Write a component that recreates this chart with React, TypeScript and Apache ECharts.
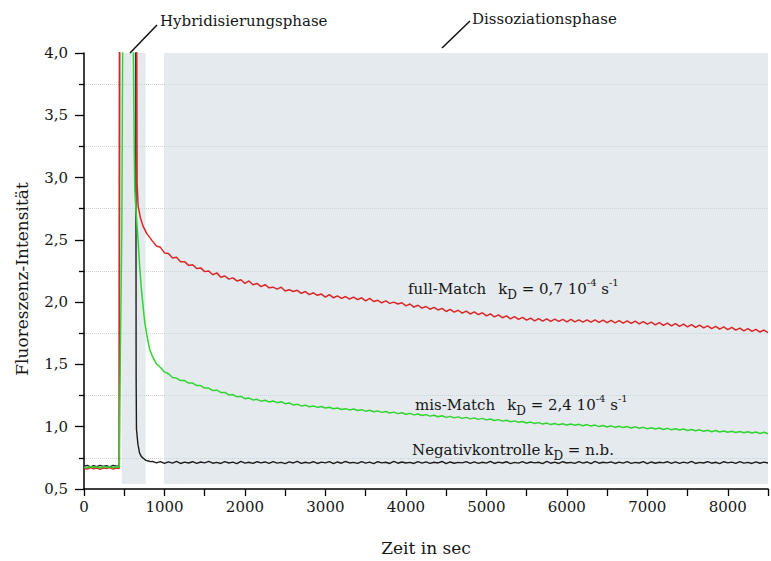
import React, { useEffect, useRef } from 'react';
import * as echarts from 'echarts';

const FONT = '"DejaVu Serif", "Liberation Serif", serif';

// Phase bands (seconds) and their vertical extent
const hybridPhase = [470, 765];
const dissocPhase = [994, 8500];
const bandY = [0.54, 4.0];

// Tail sampling: 850 s onwards, every 50 s
const TAIL_START = 850;
const TAIL_STEP = 50;

// full-Match (red)
const redHead: [number, number][] = [
  [0, 0.665], [40, 0.66], [80, 0.672], [120, 0.662], [160, 0.668], [200, 0.658], [240, 0.67],
  [280, 0.664], [320, 0.672], [360, 0.66], [400, 0.668], [438, 0.665], [442, 5], [652, 5],
  [660, 2.95], [673, 2.77], [700, 2.68], [734, 2.61], [780, 2.55], [817, 2.52],
];
const redTail = [
  2.49, 2.45, 2.44, 2.395, 2.39, 2.355, 2.36, 2.325, 2.325, 2.295,
  2.3, 2.27, 2.275, 2.245, 2.25, 2.22, 2.235, 2.2, 2.21, 2.185,
  2.195, 2.17, 2.18, 2.15, 2.17, 2.14, 2.15, 2.125, 2.14, 2.115,
  2.12, 2.105, 2.12, 2.09, 2.1, 2.085, 2.095, 2.07, 2.085, 2.06,
  2.075, 2.055, 2.065, 2.04, 2.06, 2.035, 2.05, 2.03, 2.045, 2.025,
  2.04, 2.02, 2.035, 2.01, 2.03, 2.005, 2.015, 1.995, 2.01, 1.99,
  2.0, 1.985, 1.995, 1.97, 1.985, 1.96, 1.975, 1.952, 1.965, 1.943,
  1.958, 1.937, 1.95, 1.925, 1.942, 1.92, 1.935, 1.912, 1.928, 1.905,
  1.922, 1.9, 1.915, 1.89, 1.905, 1.882, 1.898, 1.875, 1.89, 1.866,
  1.884, 1.862, 1.878, 1.855, 1.872, 1.85, 1.868, 1.848, 1.866, 1.846,
  1.864, 1.845, 1.862, 1.842, 1.861, 1.841, 1.858, 1.84, 1.857, 1.839,
  1.857, 1.837, 1.855, 1.835, 1.853, 1.834, 1.851, 1.831, 1.849, 1.829,
  1.847, 1.826, 1.844, 1.823, 1.84, 1.818, 1.836, 1.814, 1.832, 1.81,
  1.828, 1.806, 1.823, 1.802, 1.82, 1.797, 1.815, 1.793, 1.81, 1.788,
  1.806, 1.784, 1.801, 1.78, 1.797, 1.775, 1.792, 1.77, 1.787, 1.765,
  1.781, 1.76, 1.776, 1.755,
];

// mis-Match (green)
const greenHead: [number, number][] = [
  [0, 0.675], [40, 0.67], [80, 0.68], [120, 0.672], [160, 0.678], [200, 0.668], [240, 0.682],
  [280, 0.672], [320, 0.68], [360, 0.67], [400, 0.678], [440, 0.675], [446, 1.2], [470, 2.6],
  [486, 5], [600, 5], [625, 3.2], [631, 2.9], [650, 2.7], [672, 2.5], [690, 2.3], [714, 2.1],
  [735, 1.96], [755, 1.84], [785, 1.72], [817, 1.62],
];
const greenTail = [
  1.565, 1.505, 1.475, 1.44, 1.425, 1.395, 1.39, 1.37, 1.37, 1.35,
  1.35, 1.33, 1.33, 1.31, 1.31, 1.29, 1.293, 1.275, 1.275, 1.255,
  1.258, 1.24, 1.243, 1.225, 1.23, 1.215, 1.22, 1.205, 1.212, 1.199,
  1.206, 1.193, 1.2, 1.185, 1.19, 1.175, 1.181, 1.167, 1.173, 1.16,
  1.167, 1.155, 1.162, 1.15, 1.156, 1.144, 1.15, 1.138, 1.145, 1.135,
  1.142, 1.13, 1.137, 1.125, 1.132, 1.12, 1.127, 1.115, 1.122, 1.11,
  1.117, 1.105, 1.112, 1.1, 1.107, 1.095, 1.102, 1.09, 1.097, 1.085,
  1.092, 1.08, 1.088, 1.075, 1.083, 1.071, 1.079, 1.067, 1.075, 1.063,
  1.071, 1.059, 1.067, 1.055, 1.062, 1.05, 1.057, 1.045, 1.052, 1.04,
  1.047, 1.035, 1.042, 1.03, 1.037, 1.025, 1.033, 1.021, 1.029, 1.017,
  1.026, 1.015, 1.024, 1.013, 1.022, 1.011, 1.019, 1.008, 1.017, 1.005,
  1.013, 1.001, 1.01, 0.998, 1.007, 0.995, 1.004, 0.993, 1.001, 0.99,
  0.999, 0.987, 0.995, 0.984, 0.992, 0.981, 0.99, 0.978, 0.987, 0.975,
  0.984, 0.973, 0.981, 0.97, 0.978, 0.967, 0.975, 0.963, 0.972, 0.96,
  0.969, 0.957, 0.966, 0.955, 0.964, 0.953, 0.962, 0.951, 0.96, 0.949,
  0.957, 0.946, 0.955, 0.943,
];

// Negativkontrolle (black)
const blackHead: [number, number][] = [
  [0, 0.683], [40, 0.69], [80, 0.678], [120, 0.688], [160, 0.68], [200, 0.69], [240, 0.682],
  [280, 0.688], [320, 0.678], [360, 0.69], [400, 0.684], [439, 0.686], [443, 5], [642, 5],
  [648, 1.38], [652, 0.98], [670, 0.86], [690, 0.79], [714, 0.76], [740, 0.745], [770, 0.73],
  [800, 0.725], [825, 0.72],
];
const blackTail = [
  0.722, 0.71, 0.72, 0.706, 0.718, 0.708, 0.721, 0.705, 0.716, 0.709,
  0.719, 0.706, 0.717, 0.71, 0.722, 0.707, 0.714, 0.705, 0.72, 0.709,
  0.716, 0.704, 0.721, 0.708, 0.715, 0.706, 0.719, 0.71, 0.717, 0.705,
  0.72, 0.708, 0.714, 0.704, 0.718, 0.709, 0.722, 0.706, 0.715, 0.708,
  0.719, 0.705, 0.716, 0.71, 0.72, 0.704, 0.717, 0.707, 0.721, 0.709,
  0.714, 0.706, 0.72, 0.708, 0.716, 0.704, 0.719, 0.71, 0.715, 0.705,
  0.721, 0.707, 0.717, 0.709, 0.714, 0.705, 0.72, 0.708, 0.718, 0.706,
  0.715, 0.709, 0.721, 0.704, 0.717, 0.707, 0.714, 0.71, 0.72, 0.705,
  0.718, 0.706, 0.715, 0.708, 0.722, 0.705, 0.716, 0.709, 0.719, 0.704,
  0.714, 0.708, 0.72, 0.706, 0.717, 0.71, 0.715, 0.704, 0.721, 0.707,
  0.716, 0.705, 0.719, 0.709, 0.714, 0.706, 0.72, 0.708, 0.717, 0.704,
  0.721, 0.707, 0.715, 0.71, 0.718, 0.705, 0.716, 0.708, 0.72, 0.706,
  0.714, 0.709, 0.72, 0.704, 0.717, 0.707, 0.715, 0.71, 0.719, 0.705,
  0.718, 0.706, 0.716, 0.708, 0.721, 0.705, 0.714, 0.709, 0.72, 0.707,
  0.715, 0.704, 0.719, 0.71, 0.716, 0.706, 0.72, 0.708, 0.714, 0.705,
  0.718, 0.707, 0.716, 0.709,
];

const build = (head: [number, number][], tail: number[]) =>
  head.concat(tail.map((v, i) => [TAIL_START + TAIL_STEP * i, v] as [number, number]));

const INK = '#161616';
const txt = { fontFamily: FONT, fontSize: 15, fill: INK, color: INK, lineHeight: 24 };
const rich = {
  t: txt,
  k: { ...txt, padding: [0, 0, 0, 12] },
  k1: { ...txt, padding: [0, 0, 0, 4] },
  s: { fontFamily: FONT, fontSize: 12, fill: INK, color: INK, lineHeight: 14, verticalAlign: 'bottom' },
  p: { fontFamily: FONT, fontSize: 10, fill: INK, color: INK, lineHeight: 12, verticalAlign: 'top' },
};

export default function App() {
  const ref = useRef<HTMLDivElement>(null);
  useEffect(() => {
    const chart = echarts.init(ref.current!, null, { renderer: 'svg' });
    const option: any = {
      animation: false,
      backgroundColor: '#ffffff',
      grid: { left: 84, right: 0, top: 53, bottom: 71 },
      xAxis: {
        type: 'value',
        min: 0,
        max: 8500,
        interval: 500,
        axisLine: { show: true, lineStyle: { color: '#000', width: 1.5 } },
        axisTick: { show: true, length: 7, lineStyle: { color: '#000', width: 1.3 } },
        axisLabel: {
          formatter: (v: number) => (v % 1000 === 0 ? String(v) : ''),
          color: INK,
          fontFamily: FONT,
          fontSize: 15,
          margin: 10,
        },
        splitLine: { show: false },
        name: 'Zeit in sec',
        nameLocation: 'middle',
        nameGap: 50,
        nameTextStyle: { fontFamily: FONT, fontSize: 17, color: INK },
      },
      yAxis: {
        type: 'value',
        min: 0.5,
        max: 4.0,
        interval: 0.5,
        axisLine: { show: true, lineStyle: { color: '#000', width: 1.5 } },
        axisTick: { show: true, length: 9, lineStyle: { color: '#000', width: 1.3 } },
        minorTick: { show: true, splitNumber: 2, length: 5, lineStyle: { color: '#000', width: 1.3 } },
        minorSplitLine: { show: true, lineStyle: { color: '#c8d6cc', type: 'dotted', width: 1 } },
        splitLine: { show: false },
        axisLabel: {
          formatter: (v: number) => v.toFixed(1).replace('.', ','),
          color: INK,
          fontFamily: FONT,
          fontSize: 15,
          margin: 16,
        },
      },
      series: [
        {
          name: 'Negativkontrolle',
          type: 'line',
          data: build(blackHead, blackTail),
          showSymbol: false,
          lineStyle: { color: '#1c1c1c', width: 1.4 },
          z: 3,
          markArea: {
            silent: true,
            itemStyle: { color: 'rgba(201,213,221,0.5)' },
            data: [
              [{ xAxis: hybridPhase[0], yAxis: bandY[0] }, { xAxis: hybridPhase[1], yAxis: bandY[1] }],
              [{ xAxis: dissocPhase[0], yAxis: bandY[0] }, { xAxis: dissocPhase[1], yAxis: bandY[1] }],
            ],
          },
        },
        {
          name: 'full-Match',
          type: 'line',
          data: build(redHead, redTail),
          showSymbol: false,
          lineStyle: { color: '#dc2626', width: 1.5 },
          z: 4,
        },
        {
          name: 'mis-Match',
          type: 'line',
          data: build(greenHead, greenTail),
          showSymbol: false,
          lineStyle: { color: '#2fd42f', width: 1.5 },
          z: 5,
        },
      ],
      graphic: [
        { type: 'line', z: 100, shape: { x1: 130, y1: 53, x2: 157, y2: 25 }, style: { stroke: '#111', lineWidth: 1.5 } },
        { type: 'line', z: 100, shape: { x1: 442, y1: 48, x2: 470, y2: 21 }, style: { stroke: '#111', lineWidth: 1.5 } },
        {
          type: 'text', z: 100, x: 160, y: 21,
          style: { text: 'Hybridisierungsphase', fontFamily: FONT, fontSize: 15, fill: INK, verticalAlign: 'middle' },
        },
        {
          type: 'text', z: 100, x: 472, y: 19,
          style: { text: 'Dissoziationsphase', fontFamily: FONT, fontSize: 15, fill: INK, verticalAlign: 'middle' },
        },
        {
          type: 'text', z: 100, x: 22, y: 279, rotation: Math.PI / 2,
          style: {
            text: 'Fluoreszenz-Intensität', fontFamily: FONT, fontSize: 17, fill: INK,
            align: 'center', verticalAlign: 'middle',
          },
        },
        {
          type: 'text', z: 100, x: 408, y: 289,
          style: { text: '{t|full-Match}{k|k}{s|D}{t| = 0,7 10}{p|-4}{t| s}{p|-1}', rich, verticalAlign: 'middle' },
        },
        {
          type: 'text', z: 100, x: 415, y: 405,
          style: { text: '{t|mis-Match}{k|k}{s|D}{t| = 2,4 10}{p|-4}{t| s}{p|-1}', rich, verticalAlign: 'middle' },
        },
        {
          type: 'text', z: 100, x: 412, y: 450,
          style: { text: '{t|Negativkontrolle}{k1|k}{s|D}{t| = n.b.}', rich, verticalAlign: 'middle' },
        },
      ],
    };
    chart.setOption(option);
    return () => chart.dispose();
  }, []);
  return (
    <div
      ref={ref}
      style={{ position: 'fixed', left: 0, top: 0, width: 771, height: 561, background: '#fff' }}
    />
  );
}
